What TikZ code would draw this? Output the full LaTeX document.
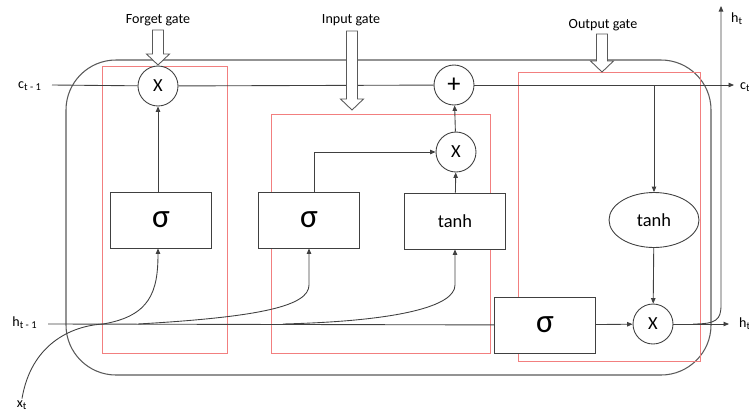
\documentclass[tikz,border=0pt]{standalone}
\usepackage{fontspec}
\setmainfont{Carlito}
\usetikzlibrary{arrows.meta,shapes.geometric}

\definecolor{linegray}{HTML}{404040}
\definecolor{framegray}{HTML}{595959}
\definecolor{gatered}{HTML}{F27F7F}

\tikzset{
    wire/.style={draw=linegray, line width=0.5pt},
    flow/.style={wire, -{Triangle[length=1.1mm, width=0.9mm]}},
    gatebox/.style={draw=linegray, fill=white, line width=0.5pt, minimum width=2.02cm, minimum height=1.12cm, inner sep=0pt, font=\fontsize{19}{21}\selectfont},
    opnode/.style={draw=linegray, fill=white, circle, line width=0.5pt, minimum size=0.8cm, inner sep=0pt, font=\fontsize{10.5}{12}\selectfont},
    gatefield/.style={draw=gatered, line width=0.57pt},
    lbl/.style={font=\fontsize{8}{9}\selectfont, inner sep=1pt},
}

% hollow gate arrow: x, top y, tip y
\newcommand{\gatearrow}[3]{%
    \draw[framegray, line width=0.5pt, fill=white] (#1-5.5,#2) -- (#1+5.5,#2) -- (#1+5.5,#3-11) -- (#1+11.5,#3-11) -- (#1,#3) -- (#1-11.5,#3-11) -- (#1-5.5,#3-11) -- cycle;}

\begin{document}
\begin{tikzpicture}[x=0.02cm, y=-0.02cm]
    \useasboundingbox (0,0) rectangle (749,413);

    % cell outline and gate areas
    \draw[framegray, line width=0.6pt, rounded corners=1cm] (66,60) rectangle (711,375);
    \draw[gatefield] (102,66) rectangle (227,353);
    \draw[gatefield] (271,114) rectangle (490,353);
    \draw[gatefield] (518,72) rectangle (700,361);

    % in / out labels
    \node[lbl] (ctm1) at (30,86) {c\textsubscript{t - 1}};
    \node[lbl] (htm1) at (25,323) {h\textsubscript{t - 1}};
    \node[lbl] (xt) at (22,405) {x\textsubscript{t}};
    \node[lbl, anchor=west] (ct) at (738,87) {c\textsubscript{t}};
    \node[lbl, anchor=west] (hright) at (737,324) {h\textsubscript{t}};
    \node[lbl, anchor=west] (htop) at (729,19) {h\textsubscript{t}};

    \coordinate (cin) at (52,85);
    \coordinate (cout) at (734,85);
    \coordinate (hin) at (48,324);
    \coordinate (hout) at (729,324);
    \coordinate (hsplit) at (693,324);
    \coordinate (hup) at (721,6);
    \coordinate (hjoin) at (103,324);
    \coordinate (hjoinb) at (138,324);
    \coordinate (hjoinc) at (283,324);

    % operations
    \node[opnode] (fmul) at (158,86) {X};
    \node[opnode, font=\fontsize{15}{16}\selectfont] (iadd) at (454,85) {+};
    \node[opnode] (imul) at (456,152) {X};
    \node[opnode] (omul) at (653,324) {X};

    \node[gatebox] (fsig) at (161,220) {σ};
    \node[gatebox] (isig) at (309,220) {σ};
    \node[gatebox, font=\fontsize{10.5}{12}\selectfont] (itanh) at (455,221) {tanh};
    \node[gatebox] (osig) at (545,325) {σ};
    \node[draw=linegray, fill=white, ellipse, line width=0.5pt, minimum width=1.8cm, minimum height=1.1cm, inner sep=0pt, font=\fontsize{10.5}{12}\selectfont] (otanh) at (654,220) {tanh};

    % cell state
    \draw[wire] (cin) -- (fmul);
    \draw[wire] (fmul) -- (iadd);
    \draw[flow] (iadd) -- (cout);
    \draw[flow] (otanh.north |- cout) -- (otanh);

    % hidden state and input
    \draw[wire] (hin) -- (osig);
    \draw[wire] (xt.north) .. controls (31,345) and (70,326) .. (hjoin);
    \draw[flow] (hjoin) .. controls (150,316) and (158,292) .. (fsig.south -| fmul);
    \draw[flow] (hjoinb) .. controls (260,317) and (309,306) .. (309,285) -- (isig.south);
    \draw[flow] (hjoinc) .. controls (400,321) and (455,306) .. (455,285) -- (itanh.south);

    \draw[flow] (fsig.north -| fmul) -- (fmul);
    \draw[flow] ([xshift=0.1cm]isig.north) |- (imul);
    \draw[flow] (itanh) -- (imul);
    \draw[flow] (imul) -- (iadd);

    \draw[flow] (otanh) -- (omul);
    \draw[flow] (osig) -- (omul);
    \draw[flow] (omul) -- (hout);
    \draw[flow] (hsplit) .. controls (716,324) and (721,320) .. (721,305) -- (hup);

    % gates
    \node[lbl] (forget) at (158,20) {Forget gate};
    \node[lbl] (input) at (351,20) {Input gate};
    \node[lbl] (output) at (603,25) {Output gate};
    \gatearrow{158}{30}{65}
    \gatearrow{352}{31}{110}
    \gatearrow{602}{34}{72}
\end{tikzpicture}
\end{document}
